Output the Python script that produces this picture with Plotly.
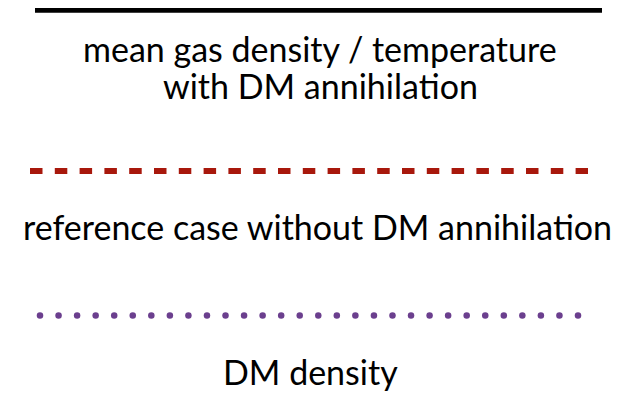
import numpy as np
import plotly.graph_objects as go

# ----------- legend entries -----------
# (the "t" sits in its own styled span so Lato does not draw a "ti" ligature)
T = '<span style="color:#000001">t</span>'
label_lines = [
    "mean gas density / temperature",
    "with DM annihila" + T + "ion",
    "reference case without DM annihila" + T + "ion",
    "DM density",
]
line_colors = ["#000000", "#a8180c", "#6b3f8e"]
line_styles = ["solid", "dash", "dot"]

# sample line extents (x from, x to) and heights, in pixel units of the page
line_x = [(35, 602), (30, 588), (40, 578)]
line_y = [9.5, 171, 315.5]
label_y = [48, 85, 226, 371]
label_x = [320, 320, 317, 310]

W, H = 622, 393
OFF = 8  # page body margin, so data units equal page pixels

fig = go.Figure()

for (x0, x1), y, col, style in zip(line_x, line_y, line_colors, line_styles):
    if style == "dot":
        xs = np.linspace(x0, x1, 30)
        fig.add_trace(go.Scatter(x=xs, y=[y] * len(xs), mode="markers",
                                 marker=dict(color=col, size=6.5, line=dict(width=0)),
                                 hoverinfo="skip"))
    elif style == "dash":
        fig.add_trace(go.Scatter(x=[x0, x1], y=[y, y], mode="lines",
                                 line=dict(color=col, width=6, dash="12.5px,12.3px"),
                                 hoverinfo="skip"))
    else:
        fig.add_trace(go.Scatter(x=[x0, x1], y=[y, y], mode="lines",
                                 line=dict(color=col, width=6.5), hoverinfo="skip"))

for txt, x, y in zip(label_lines, label_x, label_y):
    fig.add_annotation(x=x, y=y, text=txt, showarrow=False,
                       font=dict(family="Lato", size=34, color="#000000"),
                       xanchor="center", yanchor="middle")

fig.update_xaxes(range=[OFF, W + OFF], visible=False)
fig.update_yaxes(range=[H + OFF, OFF], visible=False)
fig.update_layout(width=W, height=H, margin=dict(l=0, r=0, t=0, b=0),
                  showlegend=False, plot_bgcolor="white", paper_bgcolor="white")

fig.write_html("out.html")
